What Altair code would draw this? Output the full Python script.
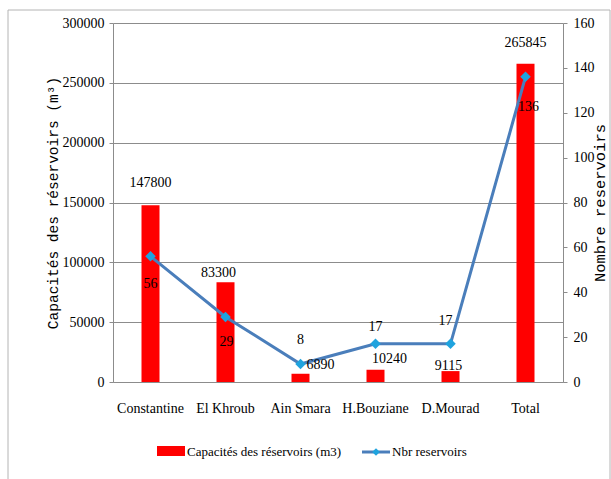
import altair as alt
import pandas as pd

# Reservoir capacities (m3) and number of reservoirs per commune
communes = ["Constantine", "El Khroub", "Ain Smara", "H.Bouziane", "D.Mourad", "Total"]
capacites = [147800, 83300, 6890, 10240, 9115, 265845]
nbr_reservoirs = [56, 29, 8, 17, 17, 136]

df = pd.DataFrame({"commune": communes, "capacite": capacites, "nbr": nbr_reservoirs})

SERIF = "'Liberation Serif', 'Times New Roman', serif"
MONO = "'Liberation Mono', 'Courier New', monospace"
RED = "#ff0000"
LINE = "#4a7ebb"
MARKER = "#1fa3de"
GRID = "#8c8c8c"

W, H = 450, 359

x_scale = alt.Scale(domain=communes, paddingInner=0, paddingOuter=0)
y_cap = alt.Scale(domain=[0, 300000], nice=False)
y_nbr = alt.Scale(domain=[0, 160], nice=False)

# one shared category axis definition for every layer
x_axis = alt.Axis(
    title=None, labelAngle=0, ticks=False, domainColor=GRID, grid=False,
    labelFont=SERIF, labelFontSize=14, labelColor="black", labelPadding=19,
)
x_enc = alt.X("commune:N", sort=communes, scale=x_scale, axis=x_axis)

base = alt.Chart(df)

bars = base.mark_bar(color=RED, size=18).encode(
    x=x_enc,
    y=alt.Y(
        "capacite:Q", scale=y_cap,
        axis=alt.Axis(
            orient="left", title="Capacités des réservoirs (m³)",
            values=[0, 50000, 100000, 150000, 200000, 250000, 300000], format="d",
            grid=True, gridColor=GRID, domainColor=GRID, tickColor=GRID, tickSize=4,
            labelFont=SERIF, labelFontSize=14, labelColor="black", labelPadding=5,
            titleFont=MONO, titleFontSize=14.5, titleFontWeight="normal", titleColor="black",
            titleX=-60, titleBaseline="middle",
        ),
    ),
)

line = base.mark_line(color=LINE, strokeWidth=3).encode(
    x=x_enc,
    y=alt.Y(
        "nbr:Q", scale=y_nbr,
        axis=alt.Axis(
            orient="right", title="Nombre reservoirs",
            values=[0, 20, 40, 60, 80, 100, 120, 140, 160],
            grid=False, domainColor=GRID, tickColor=GRID, tickSize=4,
            labelFont=SERIF, labelFontSize=14, labelColor="black", labelPadding=6,
            titleFont=MONO, titleFontSize=15.5, titleFontWeight="normal", titleColor="black",
            titleAngle=270, titleX=36, titleBaseline="middle",
        ),
    ),
)

points = base.mark_point(shape="diamond", filled=True, color=MARKER, size=110, opacity=1).encode(
    x=x_enc,
    y=alt.Y("nbr:Q", scale=y_nbr, axis=None),
)

# Label nudges (dx, dy) relative to the bar top / line marker
bar_label_nudge = {
    "Constantine": (0, -22), "El Khroub": (-7, -9), "Ain Smara": (20, -9),
    "H.Bouziane": (14, -11), "D.Mourad": (-2, -5), "Total": (0, -21),
}
line_label_nudge = {
    "Constantine": (0, 28), "El Khroub": (1, 25), "Ain Smara": (0, -24),
    "H.Bouziane": (0, -17), "D.Mourad": (-5, -23), "Total": (3, 30),
}

label_layers = []
for name in communes:
    dx, dy = bar_label_nudge[name]
    label_layers.append(
        base.transform_filter(alt.datum.commune == name)
        .mark_text(font=SERIF, fontSize=14, color="black", dx=dx, dy=dy, baseline="middle")
        .encode(x=x_enc, y=alt.Y("capacite:Q", scale=y_cap, axis=None), text="capacite:Q")
    )
    dx, dy = line_label_nudge[name]
    label_layers.append(
        base.transform_filter(alt.datum.commune == name)
        .mark_text(font=SERIF, fontSize=14, color="black", dx=dx, dy=dy, baseline="middle")
        .encode(x=x_enc, y=alt.Y("nbr:Q", scale=y_nbr, axis=None), text="nbr:Q")
    )

# Legend drawn below the plot, and the outer frame
one = alt.Chart(pd.DataFrame({"k": [0]}))
legend_bar = one.mark_rect(color=RED).encode(
    x=alt.value(44), x2=alt.value(72), y=alt.value(423), y2=alt.value(433)
)
legend_bar_text = one.mark_text(font=SERIF, fontSize=13, align="left", baseline="middle", color="black").encode(
    x=alt.value(74), y=alt.value(429), text=alt.value("Capacités des réservoirs (m3)")
)
legend_line = one.mark_rule(color=LINE, strokeWidth=3).encode(
    x=alt.value(249), x2=alt.value(277), y=alt.value(429)
)
legend_marker = one.mark_point(shape="diamond", filled=True, color=MARKER, size=60, opacity=1).encode(
    x=alt.value(263), y=alt.value(429)
)
legend_line_text = one.mark_text(font=SERIF, fontSize=13, align="left", baseline="middle", color="black").encode(
    x=alt.value(279), y=alt.value(429), text=alt.value("Nbr reservoirs")
)
frame = one.mark_rect(fill=None, stroke="#b4b4b4", strokeWidth=1).encode(
    x=alt.value(-105), x2=alt.value(497), y=alt.value(-13), y2=alt.value(480)
)

chart = (
    alt.layer(
        frame, bars, line, points, *label_layers,
        legend_bar, legend_bar_text, legend_line, legend_marker, legend_line_text,
    )
    .resolve_scale(y="independent")
    .properties(
        width=W, height=H,
        autosize=alt.AutoSizeParams(type="none"),
        padding={"left": 113, "top": 23, "right": 48, "bottom": 97},
        background="white",
    )
    .configure_view(stroke=None)
)

chart.save("out.html", embed_options={"renderer": "svg", "actions": False})
